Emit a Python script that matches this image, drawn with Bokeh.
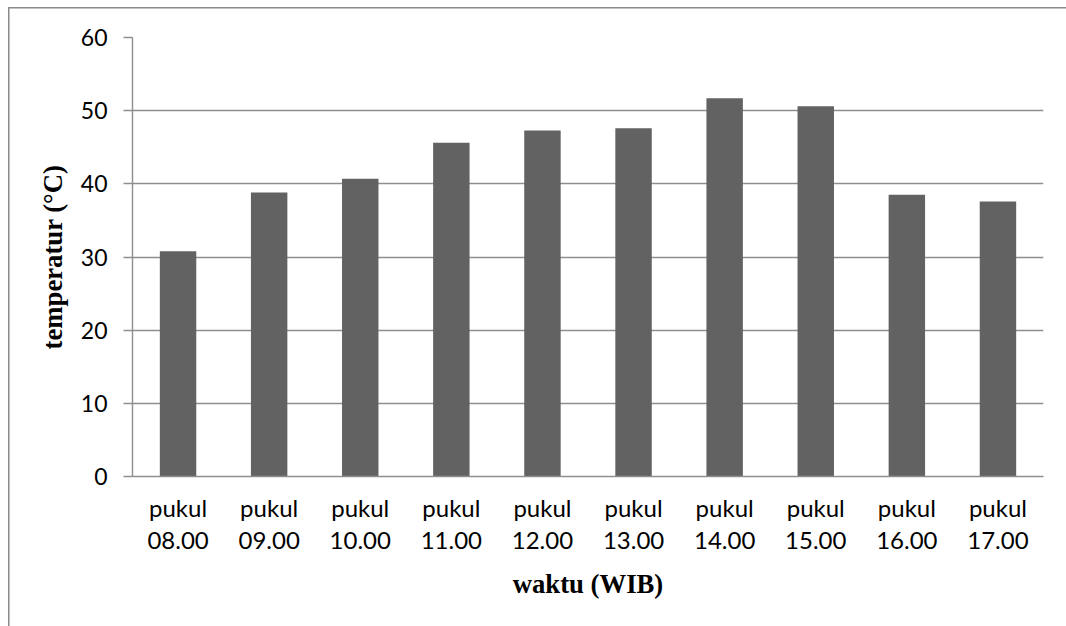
from bokeh.plotting import figure
from bokeh.models import FactorRange, Range1d, FixedTicker, ColumnDataSource
from bokeh.embed import file_html
from bokeh.resources import INLINE

# Temperature readings per hour of the day
hours = ["08.00", "09.00", "10.00", "11.00", "12.00",
         "13.00", "14.00", "15.00", "16.00", "17.00"]
temperature = [30.8, 38.8, 40.7, 45.6, 47.3, 47.6, 51.7, 50.6, 38.5, 37.6]
y_ticks = [0, 10, 20, 30, 40, 50, 60]

categories = ["pukul\n" + h for h in hours]
source = ColumnDataSource(data=dict(cat=categories, temp=temperature))

p = figure(
    width=1066, height=626,
    x_range=FactorRange(*categories, range_padding=0),
    y_range=Range1d(0, 60),
    output_backend="svg", toolbar_location=None,
    min_border_left=132, min_border_right=23,
    min_border_top=37, min_border_bottom=150,
)
p.x_range.factor_padding = 0
p.frame_width = 911
p.frame_height = 439

p.vbar(x="cat", top="temp", width=0.4, source=source,
       fill_color="#626262", line_color=None)

grid_color = "#8e8e8e"
p.outline_line_color = None
p.xgrid.grid_line_color = None
p.ygrid.grid_line_color = grid_color
p.ygrid.grid_line_width = 1.4

# y axis
p.yaxis.ticker = FixedTicker(ticks=y_ticks)
p.yaxis.axis_line_color = grid_color
p.yaxis.axis_line_width = 1.4
p.yaxis.major_tick_line_color = grid_color
p.yaxis.major_tick_line_width = 1.4
p.yaxis.major_tick_out = 9
p.yaxis.major_tick_in = 0
p.yaxis.minor_tick_line_color = None
p.yaxis.major_label_text_font = "Lato"
p.yaxis.major_label_text_font_size = "23px"
p.yaxis.major_label_text_color = "#000000"
p.yaxis.major_label_standoff = 16
p.yaxis.axis_label = "temperatur (°C)"
p.yaxis.axis_label_text_font = "Liberation Serif"
p.yaxis.axis_label_text_font_style = "bold"
p.yaxis.axis_label_text_font_size = "26.7px"
p.yaxis.axis_label_text_color = "#000000"
p.yaxis.axis_label_standoff = 10

# x axis
p.xaxis.axis_line_color = grid_color
p.xaxis.axis_line_width = 1.4
p.xaxis.major_tick_line_color = None
p.xaxis.minor_tick_line_color = None
p.xaxis.major_label_text_font = "Lato"
p.xaxis.major_label_text_font_size = "24px"
p.xaxis.major_label_text_color = "#000000"
p.xaxis.major_label_text_line_height = 1.12
p.xaxis.major_label_standoff = 10
p.xaxis.axis_label = "waktu (WIB)"
p.xaxis.axis_label_text_font = "Liberation Serif"
p.xaxis.axis_label_text_font_style = "bold"
p.xaxis.axis_label_text_font_size = "26.7px"
p.xaxis.axis_label_text_color = "#000000"
p.xaxis.axis_label_standoff = 12

# outer chart frame (left and top edges) painted as the element's background,
# with a transparent border area so it shows through
p.border_fill_color = None
p.background_fill_color = "#ffffff"
p.styles = {
    "background-color": "#ffffff",
    "background-image": "linear-gradient(#8a8a8a, #8a8a8a), linear-gradient(#8a8a8a, #8a8a8a)",
    "background-size": "1.5px 619px, 1058px 1.5px",
    "background-position": "8px 7px, 8px 7px",
    "background-repeat": "no-repeat",
}

open("out.html", "w").write(file_html(p, INLINE))
